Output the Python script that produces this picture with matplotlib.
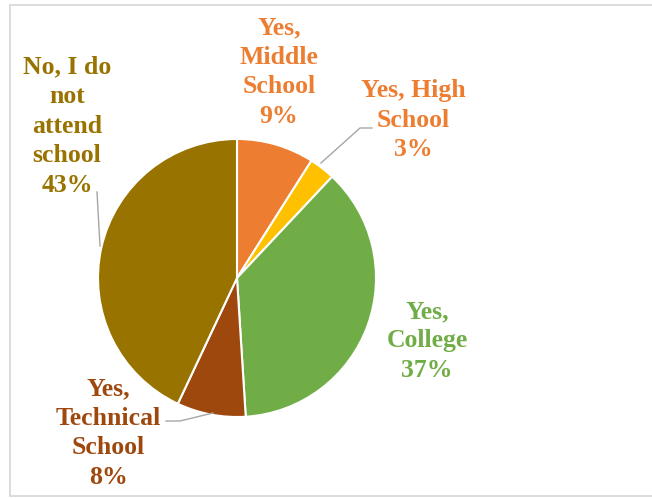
import matplotlib
matplotlib.use("Agg")
import matplotlib.pyplot as plt

# Share of respondents by school attendance
categories = ["Yes, Middle School", "Yes, High School", "Yes, College",
              "Yes, Technical School", "No, I do not attend school"]
shares = [9, 3, 37, 8, 43]
label_lines = ["Yes,\nMiddle\nSchool", "Yes, High\nSchool", "Yes,\nCollege",
               "Yes,\nTechnical\nSchool", "No, I do\nnot\nattend\nschool"]
slice_colors = ["#ED7D31", "#FFC000", "#70AD47", "#9E480E", "#997300"]
text_colors = ["#ED7D31", "#ED7D31", "#70AD47", "#9E480E", "#997300"]

W, H = 652, 498
fig = plt.figure(figsize=(W / 100, H / 100), dpi=100)
ax = fig.add_axes([0, 0, 1, 1])

cx, cy, r = 237, H - 278, 139
wedges, _ = ax.pie(shares, colors=slice_colors, startangle=90, counterclock=False,
                   center=(cx, cy), radius=r, frame=True,
                   wedgeprops=dict(edgecolor="white", linewidth=1.5))
ax.set_xlim(0, W)
ax.set_ylim(0, H)
ax.set_aspect("equal")
ax.axis("off")

# chart frame (left, top and bottom edges)
frame = "#d9d9d9"
ax.plot([W, 9.5, 9.5, W], [H - 4.5, H - 4.5, 2, 2], color=frame, lw=1.3,
        solid_joinstyle="miter")

# label anchor positions (pixels from top-left)
label_pos = [(279, 72), (413, 120), (427, 341), (108, 433), (67, 126)]
for txt, s, col, (x, y) in zip(label_lines, shares, text_colors, label_pos):
    ax.text(x, H - y, f"{txt}\n{s}%", ha="center", va="center", color=col,
            fontsize=18.5, fontweight="bold", family="Liberation Serif",
            linespacing=1.37)

# leader lines
leader = "#a6a6a6"
ax.plot([372, 360, 321], [H - 128, H - 128, H - 163], color=leader, lw=1)
ax.plot([166, 180, 213], [H - 421, H - 421, H - 413], color=leader, lw=1)
ax.plot([97, 100], [H - 192, H - 246], color=leader, lw=1)

fig.savefig("out.png", dpi=100)
